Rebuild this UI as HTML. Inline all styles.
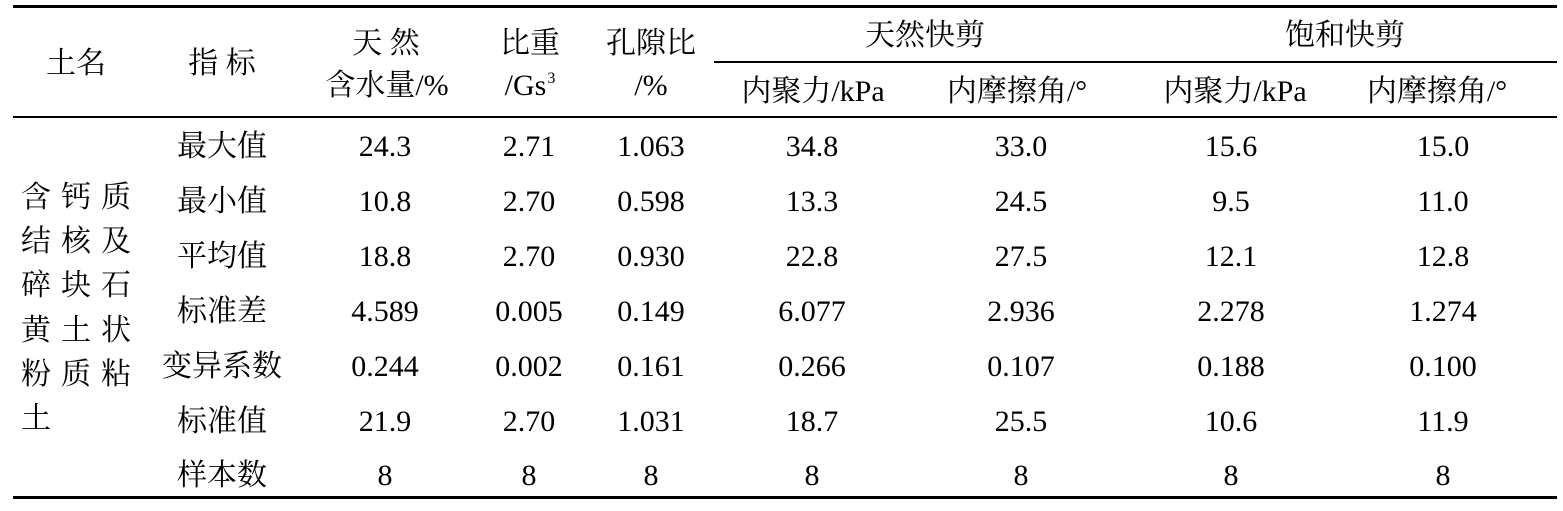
<!DOCTYPE html>
<html>
<head>
<meta charset="utf-8">
<style>
  html, body { margin:0; padding:0; background:#fff; }
  body { width:1563px; height:511px; position:relative; overflow:hidden;
         font-family:"Liberation Serif","Noto Serif CJK SC",serif; color:#000; }
  .t { position:absolute; font-size:30px; line-height:30px; height:30px; white-space:nowrap; text-align:center; width:200px; }
  .l { position:absolute; background:#000; }
  .lc { position:absolute; font-size:30px; line-height:30px; white-space:nowrap; letter-spacing:10px; left:21px; }
  sup.s { font-size:16px; position:relative; top:-12px; vertical-align:baseline; margin-left:1px; }
</style>
</head>
<body>
<!-- rules -->
<div class="l" style="left:13px; top:5px; width:1544px; height:2.5px;"></div>
<div class="l" style="left:714px; top:61px; width:843px; height:1.6px;"></div>
<div class="l" style="left:13px; top:116px; width:1544px; height:2px;"></div>
<div class="l" style="left:13px; top:496px; width:1544px; height:3px;"></div>

<!-- header -->
<div class="t" style="left:-24px; top:49px;">土名</div>
<div class="t" style="left:122px; top:49px;">指 标</div>
<div class="t" style="left:286px; top:29px;">天 然</div>
<div class="t" style="left:287px; top:71px;">含水量/%</div>
<div class="t" style="left:430px; top:29px;">比重</div>
<div class="t" style="left:430px; top:71px;">/Gs<sup class="s">3</sup></div>
<div class="t" style="left:551px; top:29px;">孔隙比</div>
<div class="t" style="left:551px; top:71px;">/%</div>
<div class="t" style="left:825px; top:21px;">天然快剪</div>
<div class="t" style="left:1245px; top:21px;">饱和快剪</div>
<div class="t" style="left:713px; top:77px;">内聚力/kPa</div>
<div class="t" style="left:917px; top:77px;">内摩擦角/°</div>
<div class="t" style="left:1135px; top:77px;">内聚力/kPa</div>
<div class="t" style="left:1337px; top:77px;">内摩擦角/°</div>

<!-- left column -->
<div class="lc" style="top:183px;">含钙质</div>
<div class="lc" style="top:227px;">结核及</div>
<div class="lc" style="top:271px;">碎块石</div>
<div class="lc" style="top:316px;">黄土状</div>
<div class="lc" style="top:360px;">粉质粘</div>
<div class="lc" style="top:404px;">土</div>

<!-- row 1 -->
<div class="t" style="left:122px; top:132px;">最大值</div>
<div class="t" style="left:285px; top:132px;">24.3</div>
<div class="t" style="left:429px; top:132px;">2.71</div>
<div class="t" style="left:551px; top:132px;">1.063</div>
<div class="t" style="left:712px; top:132px;">34.8</div>
<div class="t" style="left:921px; top:132px;">33.0</div>
<div class="t" style="left:1131px; top:132px;">15.6</div>
<div class="t" style="left:1343px; top:132px;">15.0</div>

<!-- row 2 -->
<div class="t" style="left:122px; top:187px;">最小值</div>
<div class="t" style="left:285px; top:187px;">10.8</div>
<div class="t" style="left:429px; top:187px;">2.70</div>
<div class="t" style="left:551px; top:187px;">0.598</div>
<div class="t" style="left:712px; top:187px;">13.3</div>
<div class="t" style="left:921px; top:187px;">24.5</div>
<div class="t" style="left:1131px; top:187px;">9.5</div>
<div class="t" style="left:1343px; top:187px;">11.0</div>

<!-- row 3 -->
<div class="t" style="left:122px; top:242px;">平均值</div>
<div class="t" style="left:285px; top:242px;">18.8</div>
<div class="t" style="left:429px; top:242px;">2.70</div>
<div class="t" style="left:551px; top:242px;">0.930</div>
<div class="t" style="left:712px; top:242px;">22.8</div>
<div class="t" style="left:921px; top:242px;">27.5</div>
<div class="t" style="left:1131px; top:242px;">12.1</div>
<div class="t" style="left:1343px; top:242px;">12.8</div>

<!-- row 4 -->
<div class="t" style="left:122px; top:297px;">标准差</div>
<div class="t" style="left:285px; top:297px;">4.589</div>
<div class="t" style="left:429px; top:297px;">0.005</div>
<div class="t" style="left:551px; top:297px;">0.149</div>
<div class="t" style="left:712px; top:297px;">6.077</div>
<div class="t" style="left:921px; top:297px;">2.936</div>
<div class="t" style="left:1131px; top:297px;">2.278</div>
<div class="t" style="left:1343px; top:297px;">1.274</div>

<!-- row 5 -->
<div class="t" style="left:122px; top:352px;">变异系数</div>
<div class="t" style="left:285px; top:352px;">0.244</div>
<div class="t" style="left:429px; top:352px;">0.002</div>
<div class="t" style="left:551px; top:352px;">0.161</div>
<div class="t" style="left:712px; top:352px;">0.266</div>
<div class="t" style="left:921px; top:352px;">0.107</div>
<div class="t" style="left:1131px; top:352px;">0.188</div>
<div class="t" style="left:1343px; top:352px;">0.100</div>

<!-- row 6 -->
<div class="t" style="left:122px; top:407px;">标准值</div>
<div class="t" style="left:285px; top:407px;">21.9</div>
<div class="t" style="left:429px; top:407px;">2.70</div>
<div class="t" style="left:551px; top:407px;">1.031</div>
<div class="t" style="left:712px; top:407px;">18.7</div>
<div class="t" style="left:921px; top:407px;">25.5</div>
<div class="t" style="left:1131px; top:407px;">10.6</div>
<div class="t" style="left:1343px; top:407px;">11.9</div>

<!-- row 7 -->
<div class="t" style="left:122px; top:461px;">样本数</div>
<div class="t" style="left:285px; top:461px;">8</div>
<div class="t" style="left:429px; top:461px;">8</div>
<div class="t" style="left:551px; top:461px;">8</div>
<div class="t" style="left:712px; top:461px;">8</div>
<div class="t" style="left:921px; top:461px;">8</div>
<div class="t" style="left:1131px; top:461px;">8</div>
<div class="t" style="left:1343px; top:461px;">8</div>
</body>
</html>
